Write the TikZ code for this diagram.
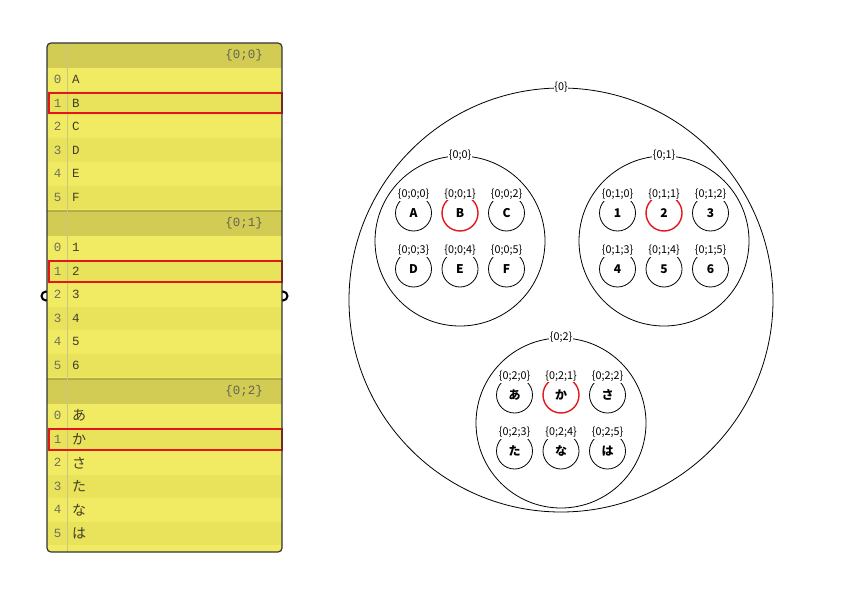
\documentclass[tikz,border=0pt]{standalone}
\usepackage{fontspec}
\setmainfont{Noto Sans CJK JP}
\newfontfamily\panelfont{Liberation Mono}
\newfontfamily\jpfont{Noto Sans CJK JP}
\usetikzlibrary{positioning}
\definecolor{panelbg}{HTML}{F1EB63}
\definecolor{panelrow}{HTML}{E9E35C}
\definecolor{panelhead}{HTML}{D2CB54}
\definecolor{panelline}{HTML}{B4AE48}
\definecolor{paneltext}{HTML}{3F3F26}
\definecolor{hilite}{HTML}{E2161D}
\tikzset{root node/.style={circle,draw,line width=0.8pt,minimum size=424pt,inner sep=0pt},
         group node/.style={circle,draw,line width=0.8pt,minimum size=170pt,inner sep=0pt},
         item node/.style={circle,draw,line width=0.8pt,minimum size=36pt,inner sep=0pt,font=\bfseries\fontsize{12}{12}\selectfont},
         picked/.style={draw=hilite,line width=1.4pt},
         path label/.style={rectangle,fill=white,inner sep=0.8pt,font=\fontsize{10.8}{11}\selectfont},
         head text/.style={anchor=east,inner sep=0pt,text=paneltext!80,font=\panelfont\fontsize{12.5}{12.5}\selectfont},
         idx text/.style={inner sep=0pt,text=paneltext!75,font=\panelfont\fontsize{12.5}{12.5}\selectfont},
         cell text/.style={anchor=west,inner sep=0pt,text=paneltext,font=\panelfont\fontsize{12.5}{12.5}\selectfont},
         pick box/.style={draw=hilite,line width=2pt},
         grip/.style={draw=black,line width=2pt}
}

\begin{document}
\begin{tikzpicture}[x=1pt,y=-1pt]
\useasboundingbox (0,0) rectangle (842,596);

% panel with the tree as a list
\draw[grip] (46,296) circle[radius=4.5pt];
\draw[grip] (283,296) circle[radius=4.5pt];
\begin{scope}
\clip[rounded corners=4pt] (47,43) rectangle (282,552);
\fill[panelbg] (47,43) rectangle (282,552);
\foreach \k in {0,1,2}{
    \fill[panelhead] (47,{43+168*\k}) rectangle (282,{68+168*\k});
    \foreach \i in {1,3,5}
        \fill[panelrow] (47,{68+168*\k+23.5*\i}) rectangle (282,{91.5+168*\k+23.5*\i});
    \node[head text] (h\k) at (263,{55.5+168*\k}) {\{0;\k\}};
}
\foreach \k in {1,2}
    \draw[panelline,line width=1.5pt] (47,{43+168*\k}) -- (282,{43+168*\k});
\draw[panelline!70,line width=0.6pt] (67,43) -- (67,552);
\end{scope}
\foreach \k/\items in {0/{A,B,C,D,E,F},1/{1,2,3,4,5,6},2/{あ,か,さ,た,な,は}}{
    \foreach \t [count=\i from 0] in \items{
        \node[idx text] (i\k\i) at (57.5,{79.75+168*\k+23.5*\i}) {\i};
        \node[cell text] (c\k\i) at (72,{79.75+168*\k+23.5*\i})
            {\ifnum\k=2 \jpfont\fontsize{14}{14}\selectfont\fi\t};
    }
    \draw[pick box] (48.5,{93+168*\k}) rectangle (281.5,{113.5+168*\k});
}
\draw[line width=1.2pt,draw=black!80,rounded corners=4pt] (47,43) rectangle (282,552);

% the same tree as nested circles
\node[root node] (r) at (561,300) {};
\node[path label] (rl) at (r.north) {\{0\}};
\foreach \g/\gx/\gy/\items in {0/460/241/{A,B,C,D,E,F},1/664/241/{1,2,3,4,5,6},2/561/423/{あ,か,さ,た,な,は}}{
    \node[group node] (g\g) at (\gx,\gy) {};
    \node[path label] (gl\g) at (g\g.north) {\{0;\g\}};
    \foreach \t [count=\i from 0] in \items{
        \pgfmathtruncatemacro\col{mod(\i,3)}
        \pgfmathtruncatemacro\row{\i/3}
        \edef\ring{\ifnum\i=1 picked\else item node\fi}
        \node[item node,\ring] (n\g\i) at ([shift={({(\col-1)*46.5},{(\row-0.5)*56})}]g\g) {\t};
        \node[path label] (nl\g\i) at (n\g\i.north) {\{0;\g;\i\}};
    }
}
\end{tikzpicture}
\end{document}
